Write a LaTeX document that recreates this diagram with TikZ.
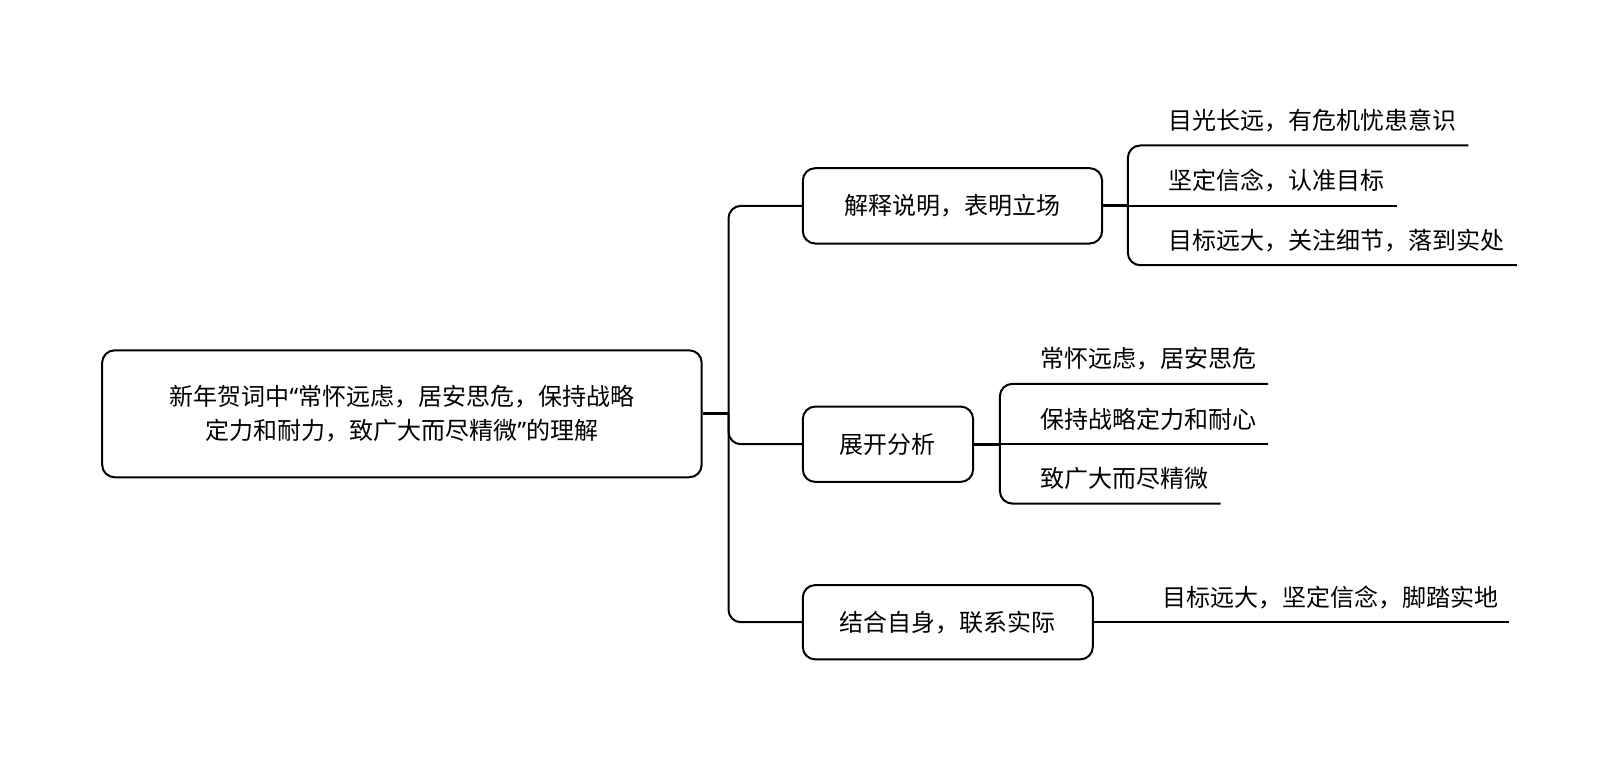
\documentclass[tikz,border=0pt]{standalone}
\usepackage{fontspec}
\newfontfamily\cjk{Noto Sans CJK SC}
\newfontfamily\lat{Noto Sans}
\begin{document}
\begin{tikzpicture}[x=0.774pt,y=-0.774pt,
  txt/.style={font=\cjk\fontsize{18}{25}\selectfont, text=black, inner sep=0pt},
  box/.style={txt, draw=black, line width=1.5pt, rounded corners=9.3pt, align=center},
  conn/.style={draw=black, line width=1.5pt, rounded corners=9.3pt},
  thickconn/.style={draw=black, line width=2.4pt},
  leaf/.style={txt, anchor=west}]
\useasboundingbox (0,0) rectangle (1568,736.5);
% main boxes
\node[box, minimum width=581*0.774pt, minimum height=123*0.774pt] (root) at (389.5,401)
  {新年贺词中{\lat“}常怀远虑，居安思危，保持战略\\定力和耐力，致广大而尽精微{\lat”}的理解};
\node[box, minimum width=290*0.774pt, minimum height=73*0.774pt] (b1) at (923,199.5) {解释说明，表明立场};
\node[box, minimum width=165*0.774pt, minimum height=73*0.774pt] (b2) at (860.5,430.5) {展开分析};
\node[box, minimum width=281*0.774pt, minimum height=72*0.774pt] (b3) at (918.5,603) {结合自身，联系实际};
% trunk
\coordinate (t) at (706,401);
\draw[thickconn] (root.east) -- (t);
\draw[conn] (b1.west) -| (t) |- (b3.west);
\draw[conn] (t) |- (b2.west);
% box1 leaves
\node[leaf] (l11) at (1132,117) {目光长远，有危机忧患意识};
\node[leaf] (l12) at (1132,175) {坚定信念，认准目标};
\node[leaf] (l13) at (1132,233) {目标远大，关注细节，落到实处};
\coordinate (u1) at (1093,199.5);
\coordinate (e11) at (1423,141);
\coordinate (e12) at (1354,199.5);
\coordinate (e13) at (1470,257);
\draw[thickconn] (b1.east) -- (u1);
\draw[conn] (e11) -| (u1) |- (e13);
\draw[conn] (u1) -- (e12);
% box2 leaves
\node[leaf] (l21) at (1008,348) {常怀远虑，居安思危};
\node[leaf] (l22) at (1008,406) {保持战略定力和耐心};
\node[leaf] (l23) at (1008,464) {致广大而尽精微};
\coordinate (u2) at (969,430.5);
\coordinate (e21) at (1229,372);
\coordinate (e22) at (1229,430.5);
\coordinate (e23) at (1183,488);
\draw[thickconn] (b2.east) -- (u2);
\draw[conn] (e21) -| (u2) |- (e23);
\draw[conn] (u2) -- (e22);
% box3 leaf
\node[leaf] (l31) at (1126,579) {目标远大，坚定信念，脚踏实地};
\coordinate (e31) at (1462,603);
\draw[conn] (b3.east) -- (e31);
\end{tikzpicture}
\end{document}
